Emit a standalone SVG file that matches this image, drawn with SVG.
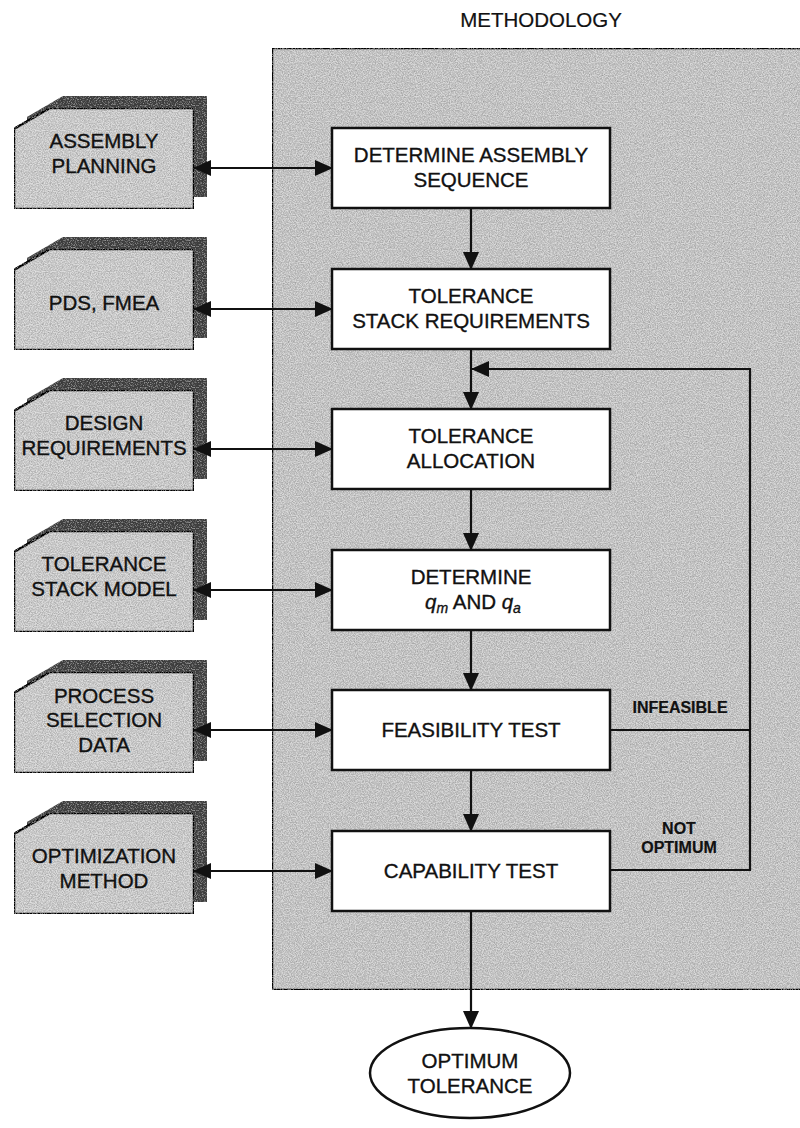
<svg xmlns="http://www.w3.org/2000/svg" width="800" height="1128" viewBox="0 0 800 1128">
  <style>
    text { font-family: "Liberation Sans", Arial, Helvetica, sans-serif; fill: #111; stroke: #111; stroke-width: 0.35; }
    .t { font-size: 20.5px; text-anchor: middle; }
    .lbl { font-size: 16px; font-weight: bold; text-anchor: middle; stroke-width: 0.2; }
    .title { font-size: 20.5px; text-anchor: middle; stroke-width: 0.2; }
    .box { fill: #ffffff; stroke: #111; stroke-width: 2.5; }
    .card { fill: #d3d3d3; stroke: #111; stroke-width: 2.5; }
    .shadow { fill: #474747; }
    .panel { fill: #cdcdcd; stroke: #111; stroke-width: 2.5; }
    .ln { fill: none; stroke: #111; stroke-width: 2.2; }
    .arr { marker-end: url(#head); }
    .both { marker-start: url(#head); marker-end: url(#head); }
  </style>
  <defs>
    <marker id="head" viewBox="0 0 18 16" refX="17" refY="8" markerWidth="18" markerHeight="16" markerUnits="userSpaceOnUse" orient="auto-start-reverse">
      <path d="M0,0 L18,8 L0,16 Z" fill="#111"/>
    </marker>
    <!-- print-like stipple texture for the shaded areas -->
    <filter id="grain" x="0" y="0" width="100%" height="100%">
      <feTurbulence type="fractalNoise" baseFrequency="0.85" numOctaves="2" seed="7" result="n"/>
      <feColorMatrix in="n" type="matrix" values="0 0 0 0 0  0 0 0 0 0  0 0 0 0 0  0.9 0 0 0 -0.33" result="dark"/>
      <feComposite in="dark" in2="SourceGraphic" operator="in" result="darkIn"/>
      <feColorMatrix in="n" type="matrix" values="0 0 0 0 1  0 0 0 0 1  0 0 0 0 1  -0.9 0 0 0 0.45" result="light"/>
      <feComposite in="light" in2="SourceGraphic" operator="in" result="lightIn"/>
      <feMerge>
        <feMergeNode in="SourceGraphic"/>
        <feMergeNode in="darkIn"/>
        <feMergeNode in="lightIn"/>
      </feMerge>
    </filter>
    <!-- card outline: rectangle with clipped top-left corner -->
    <path id="cardShape" d="M0,21 L36,0 L180,0 L180,101 L0,101 Z"/>
  </defs>

  <rect width="800" height="1128" fill="#ffffff"/>

  <!-- methodology panel -->
  <g id="methodology">
    <text class="title" x="541" y="27">METHODOLOGY</text>
    <rect class="panel" x="272" y="48" width="540" height="942" filter="url(#grain)"/>
  </g>

  <!-- input cards -->
  <g id="card-assembly-planning" transform="translate(14,108)">
    <use href="#cardShape" class="shadow" x="13" y="-12" filter="url(#grain)"/>
    <use href="#cardShape" class="card" filter="url(#grain)"/>
    <text class="t" x="90" y="40">ASSEMBLY</text>
    <text class="t" x="90" y="65">PLANNING</text>
  </g>
  <g id="card-pds-fmea" transform="translate(14,249)">
    <use href="#cardShape" class="shadow" x="13" y="-12" filter="url(#grain)"/>
    <use href="#cardShape" class="card" filter="url(#grain)"/>
    <text class="t" x="90" y="61">PDS, FMEA</text>
  </g>
  <g id="card-design-requirements" transform="translate(14,390)">
    <use href="#cardShape" class="shadow" x="13" y="-12" filter="url(#grain)"/>
    <use href="#cardShape" class="card" filter="url(#grain)"/>
    <text class="t" x="90" y="40">DESIGN</text>
    <text class="t" x="90" y="65">REQUIREMENTS</text>
  </g>
  <g id="card-tolerance-stack-model" transform="translate(14,531)">
    <use href="#cardShape" class="shadow" x="13" y="-12" filter="url(#grain)"/>
    <use href="#cardShape" class="card" filter="url(#grain)"/>
    <text class="t" x="90" y="40">TOLERANCE</text>
    <text class="t" x="90" y="65">STACK MODEL</text>
  </g>
  <g id="card-process-selection-data" transform="translate(14,672)">
    <use href="#cardShape" class="shadow" x="13" y="-12" filter="url(#grain)"/>
    <use href="#cardShape" class="card" filter="url(#grain)"/>
    <text class="t" x="90" y="31">PROCESS</text>
    <text class="t" x="90" y="55">SELECTION</text>
    <text class="t" x="90" y="80">DATA</text>
  </g>
  <g id="card-optimization-method" transform="translate(14,813)">
    <use href="#cardShape" class="shadow" x="13" y="-12" filter="url(#grain)"/>
    <use href="#cardShape" class="card" filter="url(#grain)"/>
    <text class="t" x="90" y="50">OPTIMIZATION</text>
    <text class="t" x="90" y="75">METHOD</text>
  </g>

  <!-- process steps -->
  <g id="step-assembly-sequence">
    <rect class="box" x="332" y="128" width="278" height="80"/>
    <text class="t" x="471" y="162">DETERMINE ASSEMBLY</text>
    <text class="t" x="471" y="187">SEQUENCE</text>
  </g>
  <g id="step-stack-requirements">
    <rect class="box" x="332" y="269" width="278" height="80"/>
    <text class="t" x="471" y="303">TOLERANCE</text>
    <text class="t" x="471" y="328">STACK REQUIREMENTS</text>
  </g>
  <g id="step-allocation">
    <rect class="box" x="332" y="409" width="278" height="80"/>
    <text class="t" x="471" y="443">TOLERANCE</text>
    <text class="t" x="471" y="468">ALLOCATION</text>
  </g>
  <g id="step-qm-qa">
    <rect class="box" x="332" y="550" width="278" height="80"/>
    <text class="t" x="471" y="584">DETERMINE</text>
    <text class="t" x="473" y="609"><tspan font-style="italic">q</tspan><tspan font-style="italic" font-size="14" dy="4">m</tspan><tspan dy="-4"> AND </tspan><tspan font-style="italic">q</tspan><tspan font-style="italic" font-size="14" dy="4">a</tspan></text>
  </g>
  <g id="step-feasibility">
    <rect class="box" x="332" y="690" width="278" height="80"/>
    <text class="t" x="471" y="737">FEASIBILITY TEST</text>
  </g>
  <g id="step-capability">
    <rect class="box" x="332" y="831" width="278" height="80"/>
    <text class="t" x="471" y="878">CAPABILITY TEST</text>
  </g>

  <!-- result -->
  <g id="optimum-tolerance">
    <ellipse cx="470" cy="1073" rx="100" ry="45" fill="#ffffff" stroke="#111" stroke-width="2.5"/>
    <text class="t" x="470" y="1068">OPTIMUM</text>
    <text class="t" x="470" y="1093">TOLERANCE</text>
  </g>

  <!-- connectors -->
  <g id="connectors">
    <!-- two-way links between inputs and steps -->
    <line class="ln both" x1="194" y1="168" x2="332" y2="168"/>
    <line class="ln both" x1="194" y1="309" x2="332" y2="309"/>
    <line class="ln both" x1="194" y1="449" x2="332" y2="449"/>
    <line class="ln both" x1="194" y1="590" x2="332" y2="590"/>
    <line class="ln both" x1="194" y1="730" x2="332" y2="730"/>
    <line class="ln both" x1="194" y1="871" x2="332" y2="871"/>

    <!-- main flow -->
    <line class="ln arr" x1="471" y1="208" x2="471" y2="269"/>
    <line class="ln arr" x1="471" y1="349" x2="471" y2="409"/>
    <line class="ln arr" x1="471" y1="489" x2="471" y2="550"/>
    <line class="ln arr" x1="471" y1="630" x2="471" y2="690"/>
    <line class="ln arr" x1="471" y1="770" x2="471" y2="831"/>
    <line class="ln arr" x1="471" y1="911" x2="471" y2="1028"/>

    <!-- feedback loop -->
    <polyline class="ln" points="610,730 750,730"/>
    <polyline class="ln arr" points="610,870 750,870 750,369 472,369"/>
    <text class="lbl" x="680" y="713">INFEASIBLE</text>
    <text class="lbl" x="679" y="834">NOT</text>
    <text class="lbl" x="679" y="853">OPTIMUM</text>
  </g>
</svg>
